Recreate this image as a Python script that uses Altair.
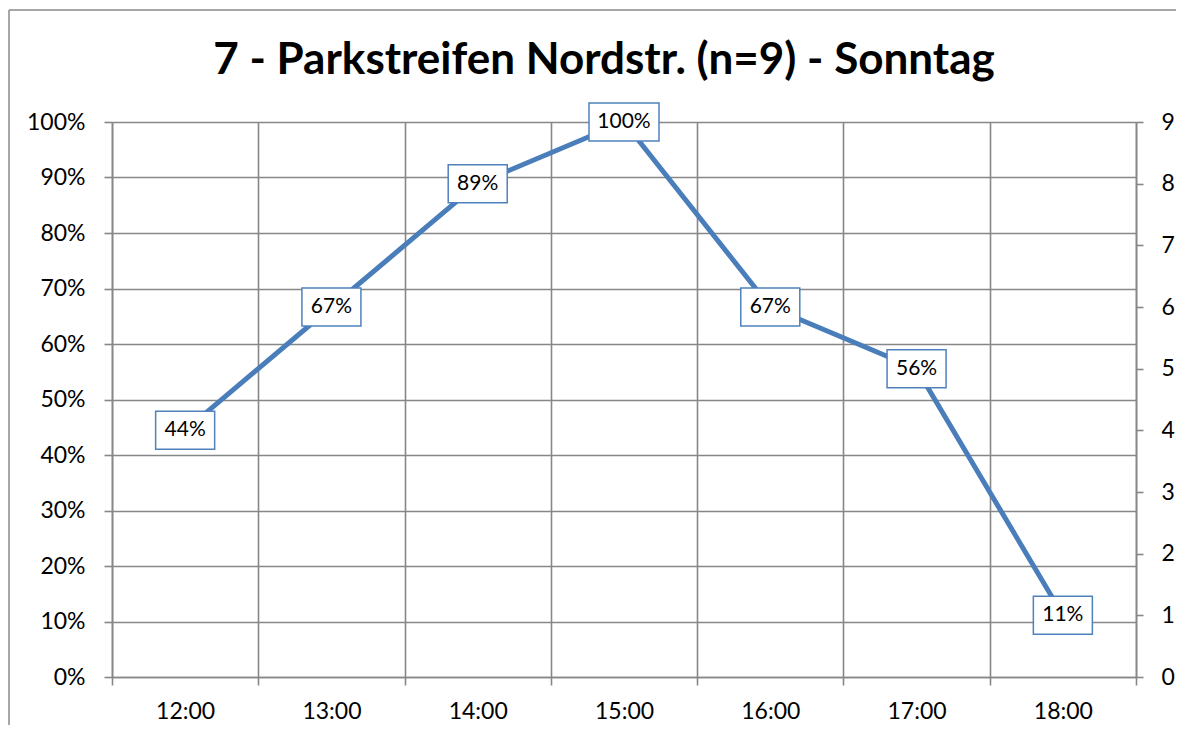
import altair as alt
import pandas as pd

# ---- data ----
times = ["12:00", "13:00", "14:00", "15:00", "16:00", "17:00", "18:00"]
counts = [4, 6, 8, 9, 6, 5, 1]          # parked vehicles (right axis)
n_total = 9                              # capacity (n=9)
title_text = "7 - Parkstreifen Nordstr. (n=9) - Sonntag"

df = pd.DataFrame({"Zeit": times, "Anzahl": counts})

FONT = "Lato"
GRID = "#878787"
LINE = "#4A7EBB"
BOX = "#4F81BD"

narrow = "M-0.843,-0.543 L0.843,-0.543 L0.843,0.543 L-0.843,0.543 Z"
wide = "M-1,-0.543 L1,-0.543 L1,0.543 L-1,0.543 Z"

base = alt.Chart(df).transform_calculate(
    pct=f"datum.Anzahl / {n_total}"
).transform_calculate(
    box=f"length(format(datum.pct, '.0%')) > 3 ? '{wide}' : '{narrow}'"
)

x_enc = alt.X(
    "Zeit:N",
    sort=times,
    scale=alt.Scale(paddingInner=0, paddingOuter=0),
    axis=alt.Axis(
        title=None, labelAngle=0, tickBand="extent", grid=True,
        gridColor=GRID, gridWidth=1.6, domainColor=GRID, domainWidth=1.6,
        tickColor=GRID, tickWidth=1.6, tickSize=8,
        labelFont=FONT, labelFontSize=23, labelColor="black", labelPadding=15,
    ),
)

y_left = alt.Y(
    "pct:Q",
    scale=alt.Scale(domain=[0, 1], nice=False, zero=True),
    axis=alt.Axis(
        title=None, format=".0%", values=[i / 10 for i in range(11)],
        grid=True, gridColor=GRID, gridWidth=1.6,
        domainColor=GRID, domainWidth=1.6,
        tickColor=GRID, tickWidth=1.6, tickSize=8,
        labelFont=FONT, labelFontSize=23, labelColor="black", labelPadding=19,
    ),
)

line = base.mark_line(color=LINE, strokeWidth=5).encode(x=x_enc, y=y_left)

boxes = base.mark_point(
    fill="white", stroke=BOX, strokeWidth=1.5, opacity=1,
    fillOpacity=1, strokeOpacity=1, size=4900,
).encode(x=x_enc, y=y_left, shape=alt.Shape("box:N", scale=None))

labels = base.mark_text(font=FONT, fontSize=21, color="black").encode(
    x=x_enc, y=y_left, text=alt.Text("pct:Q", format=".0%")
)

# chart-area border (top and left edges are visible in the reference)
one = pd.DataFrame({"a": [0]})
frame_top = alt.Chart(one).mark_rule(color="#8a8a8a", strokeWidth=1.5).encode(
    x=alt.value(-103), x2=alt.value(1200), y=alt.value(-112)
)
frame_left = alt.Chart(one).mark_rule(color="#8a8a8a", strokeWidth=1.5).encode(
    x=alt.value(-103), y=alt.value(-112), y2=alt.value(700)
)

left = alt.layer(frame_top, frame_left, line, boxes, labels)

right = base.mark_point(opacity=0).encode(
    x=x_enc,
    y=alt.Y(
        "Anzahl:Q",
        scale=alt.Scale(domain=[0, 9], nice=False, zero=True),
        axis=alt.Axis(
            title=None, orient="right", values=list(range(10)), grid=False,
            domainColor=GRID, domainWidth=1.6,
            tickColor=GRID, tickWidth=1.6, tickSize=7,
            labelFont=FONT, labelFontSize=23, labelColor="black", labelPadding=18,
        ),
    ),
)

chart = alt.layer(left, right).resolve_scale(y="independent").properties(
    width=1024,
    height=555,
    title=alt.TitleParams(
        title_text, font=FONT, fontSize=44, fontWeight="bold", color="black",
        anchor="middle", dx=-20, offset=-74,
    ),
    autosize=alt.AutoSizeParams(type="none"),
    padding={"left": 104, "top": 114, "right": 40, "bottom": 48},
).configure_view(stroke=None).configure(background="white")

chart.save("out.html", embed_options={"renderer": "svg", "actions": False})
